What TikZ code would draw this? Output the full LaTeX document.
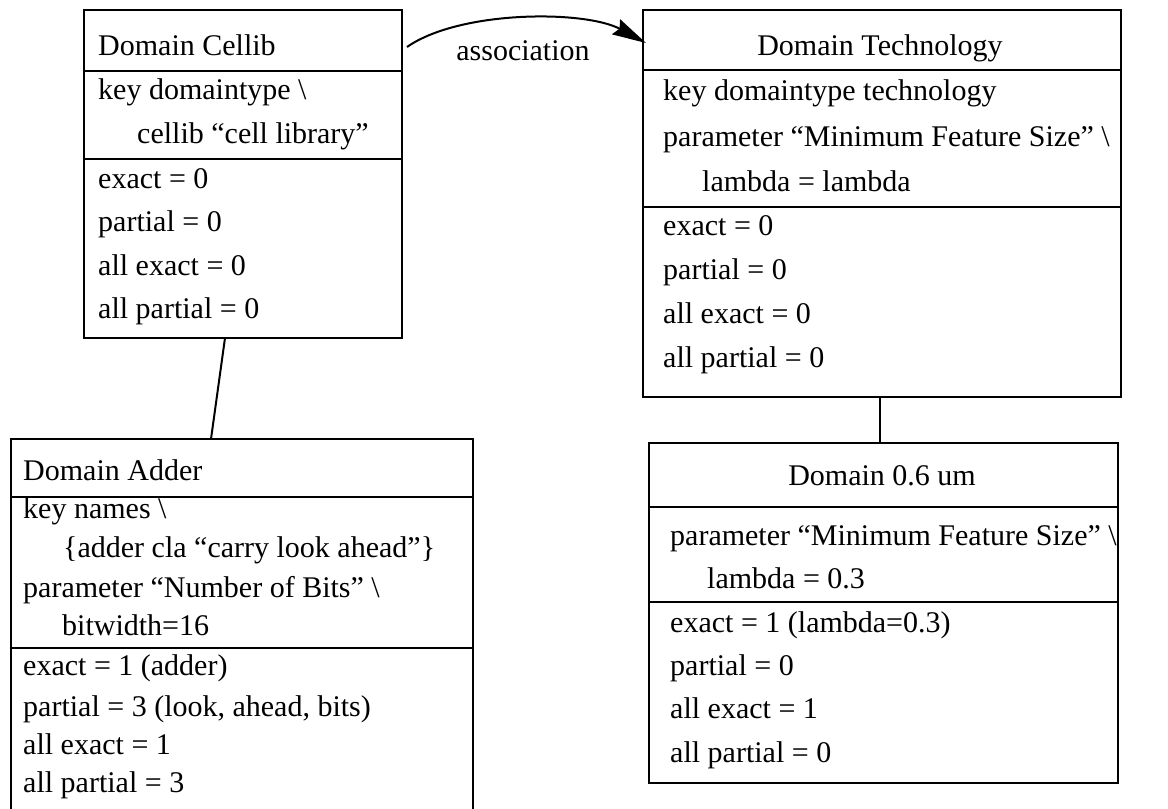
\documentclass[tikz,border=0pt]{standalone}
\usepackage{fontspec}
\setmainfont{Liberation Serif}
\usetikzlibrary{arrows.meta,calc}
\begin{document}
\begin{tikzpicture}[x=1pt,y=-1pt,
  box/.style={draw=black,line width=2.6pt,rectangle,inner sep=0pt,outer sep=0pt,anchor=north west},
  ghost/.style={draw=none,rectangle,inner sep=0pt,outer sep=0pt,anchor=north west},
  div/.style={draw=black,line width=2.3pt},
  txt/.style={anchor=base west,inner sep=0pt,font=\fontsize{30}{36}\selectfont},
  ctxt/.style={anchor=base,inner sep=0pt,font=\fontsize{30}{36}\selectfont},
  link/.style={draw=black,line width=2pt},
  assoc/.style={draw=black,line width=2pt,-{Stealth[length=34pt,width=17pt,inset=4pt]}}]
\useasboundingbox (0,0) rectangle (1168,809);

% ---------- Domain Cellib ----------
\node[box,minimum width=318pt,minimum height=328pt] (cellib) at (84,10) {};
\draw[div] ($(cellib.north west)+(0,61)$) -- ($(cellib.north east)+(0,61)$);
\draw[div] ($(cellib.north west)+(0,149)$) -- ($(cellib.north east)+(0,149)$);
\node[txt] (c1) at (98,55) {Domain Cellib};
\node[txt] (c2) at (98,99) {key domaintype \textbackslash};
\node[txt] (c3) at (137,143) {cellib “cell library”};
\node[txt] (c4) at (98,188) {exact = 0};
\node[txt] (c5) at (98,231) {partial = 0};
\node[txt] (c6) at (98,275) {all exact = 0};
\node[txt] (c7) at (98,318) {all partial = 0};

% ---------- Domain Technology ----------
\node[box,minimum width=478pt,minimum height=387pt] (tech) at (643,10) {};
\draw[div] ($(tech.north west)+(0,60)$) -- ($(tech.north east)+(0,60)$);
\draw[div] ($(tech.north west)+(0,197)$) -- ($(tech.north east)+(0,197)$);
\node[ctxt] (t1) at (880,55) {Domain Technology};
\node[txt] (t2) at (663,100) {key domaintype technology};
\node[txt] (t3) at (663,146) {parameter “Minimum Feature Size” \textbackslash};
\node[txt] (t4) at (702,191) {lambda = lambda};
\node[txt] (t5) at (663,235) {exact = 0};
\node[txt] (t6) at (663,279) {partial = 0};
\node[txt] (t7) at (663,323) {all exact = 0};
\node[txt] (t8) at (663,367) {all partial = 0};

% ---------- Domain Adder ----------
\node[ghost,minimum width=462pt,minimum height=375pt] (adder) at (11,439) {};
\draw[black,line width=2.6pt] (adder.south west) -- (adder.north west) -- (adder.north east) -- (adder.south east);
\draw[div] ($(adder.north west)+(0,58)$) -- ($(adder.north east)+(0,58)$);
\draw[div] ($(adder.north west)+(0,209)$) -- ($(adder.north east)+(0,209)$);
\node[txt] (a1) at (23,480) {Domain Adder};
\node[txt] (a2) at (23,518) {key names \textbackslash};
\node[txt] (a3) at (63,557) {\{adder cla “carry look ahead”\}};
\node[txt] (a4) at (23,597) {parameter “Number of Bits” \textbackslash};
\node[txt] (a5) at (62,635) {bitwidth=16};
\node[txt] (a6) at (23,675) {exact = 1 (adder)};
\node[txt] (a7) at (23,716) {partial = 3 (look, ahead, bits)};
\node[txt] (a8) at (23,754) {all exact = 1};
\node[txt] (a9) at (23,792) {all partial = 3};

% ---------- Domain 0.6 um ----------
\node[box,minimum width=469pt,minimum height=340pt] (um) at (649,443) {};
\draw[div] ($(um.north west)+(0,64)$) -- ($(um.north east)+(0,64)$);
\draw[div] ($(um.north west)+(0,159)$) -- ($(um.north east)+(0,159)$);
\node[ctxt] (u1) at (882,485) {Domain 0.6 um};
\node[txt] (u2) at (670,545) {parameter “Minimum Feature Size” \textbackslash};
\node[txt] (u3) at (707,588) {lambda = 0.3};
\node[txt] (u4) at (670,632) {exact = 1 (lambda=0.3)};
\node[txt] (u5) at (670,675) {partial = 0};
\node[txt] (u6) at (670,718) {all exact = 1};
\node[txt] (u7) at (670,762) {all partial = 0};

% ---------- connectors ----------
\draw[link] ($(cellib.south west)+(141,0)$) -- ($(adder.north west)+(200,0)$);
\draw[link] ($(tech.south west)+(237,0)$) -- ($(um.north west)+(231,0)$);
\coordinate (as) at ($(cellib.north east)+(5,37)$);
\coordinate (ae) at ($(tech.north west)+(3,33)$);
\draw[assoc] (as) .. controls (460,10) and (585,10) .. (ae);
\node[ctxt] (lab) at (523,60) {association};
\end{tikzpicture}
\end{document}
